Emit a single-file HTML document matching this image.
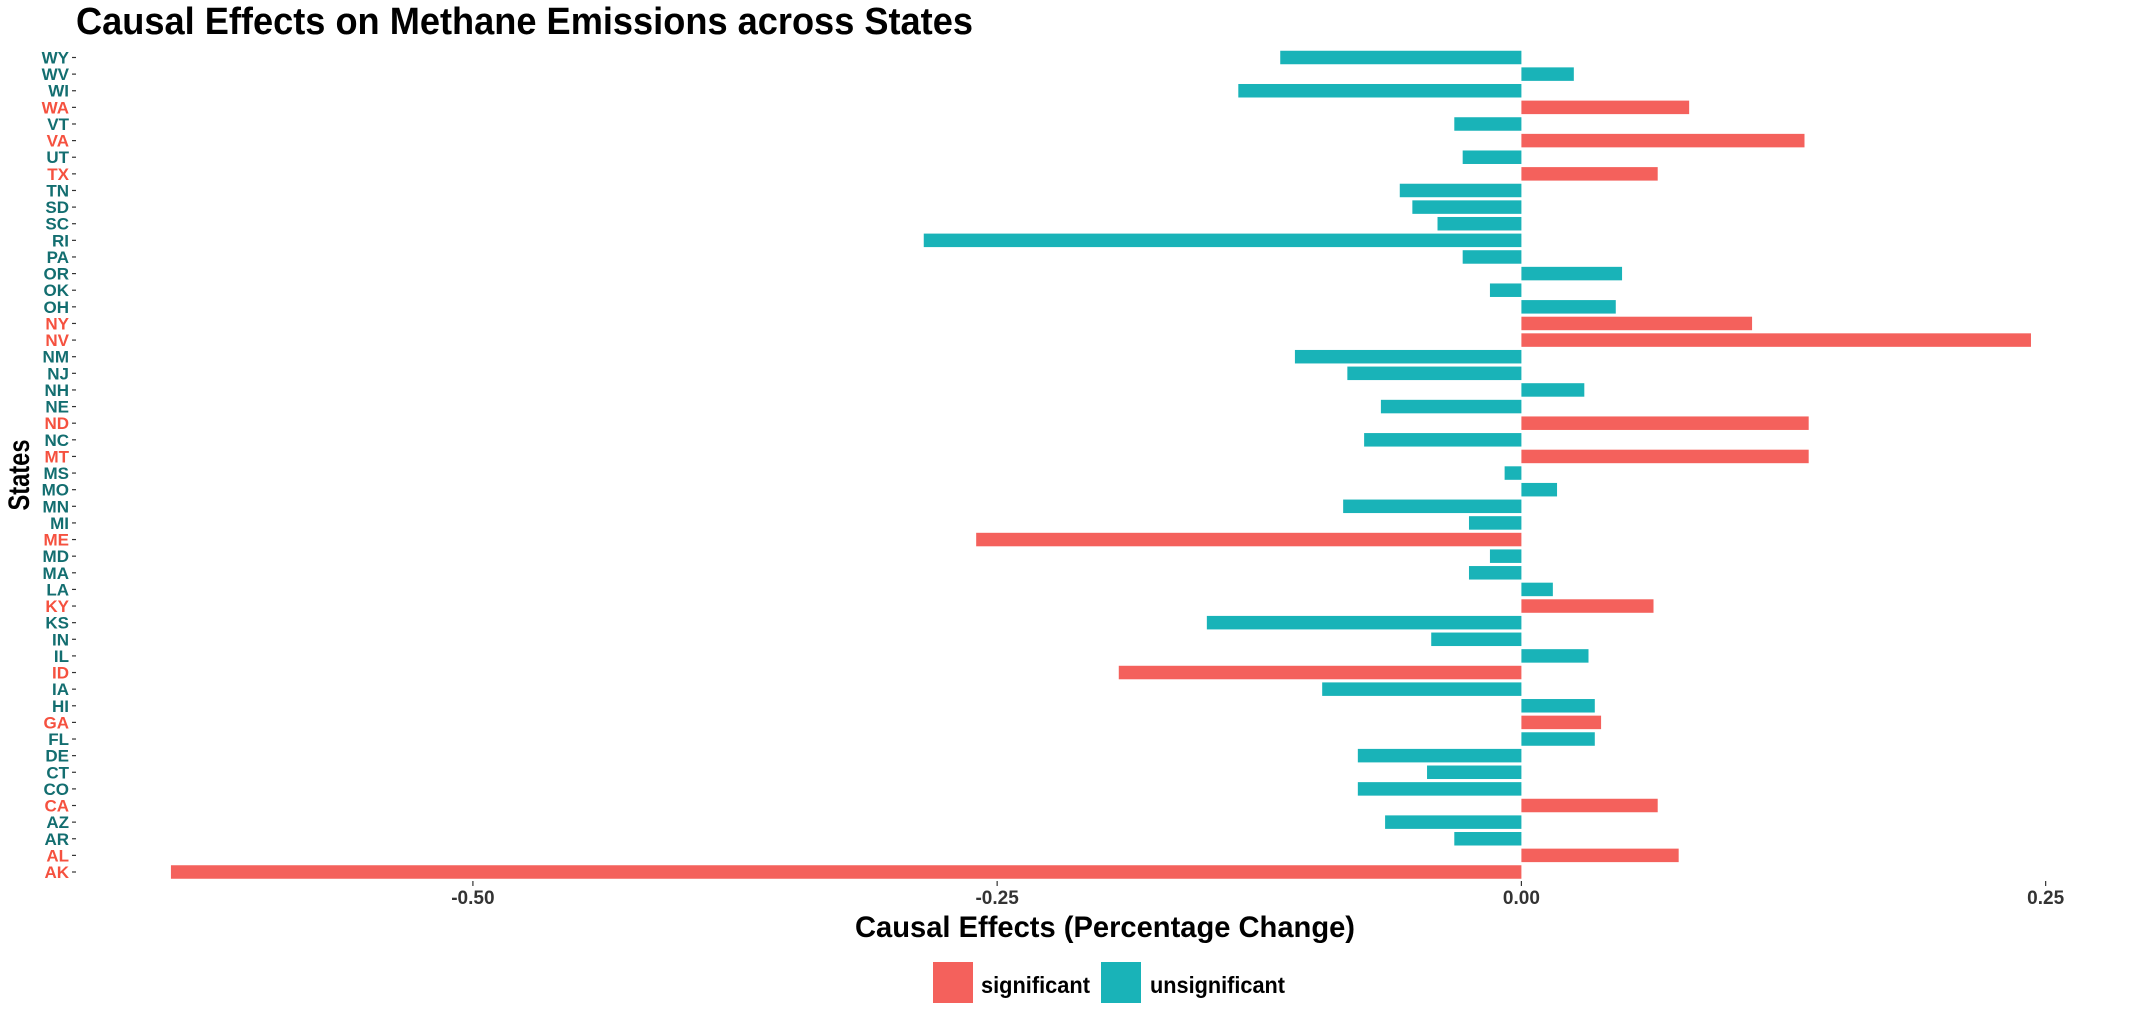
<!DOCTYPE html>
<html><head><meta charset="utf-8"><style>
html,body{margin:0;padding:0;background:#fff;}
svg{display:block;font-family:"Liberation Sans",sans-serif;}
</style></head><body>
<svg id="chart" width="2131" height="1018" viewBox="0 0 2131 1018">
<text x="76" y="34" font-size="38" font-weight="bold" fill="#000" textLength="897" lengthAdjust="spacingAndGlyphs">Causal Effects on Methane Emissions across States</text>
<g id="bars"></g>
<g id="ylabels"></g>
<g id="xaxis"></g>
<text x="1105" y="937" font-size="30" font-weight="bold" text-anchor="middle" textLength="500" lengthAdjust="spacingAndGlyphs">Causal Effects (Percentage Change)</text>
<text transform="translate(29,475) rotate(-90)" font-size="30" font-weight="bold" text-anchor="middle" textLength="71" lengthAdjust="spacingAndGlyphs">States</text>
<g>
<rect x="933" y="962" width="40" height="41" fill="#F4615C"/>
<text x="981" y="993" font-size="23" font-weight="bold" textLength="109" lengthAdjust="spacingAndGlyphs">significant</text>
<rect x="1101" y="962" width="40" height="41" fill="#19B3B8"/>
<text x="1150" y="993" font-size="23" font-weight="bold" textLength="135" lengthAdjust="spacingAndGlyphs">unsignificant</text>
</g>
</svg>
<script>
const states = ["WY","WV","WI","WA","VT","VA","UT","TX","TN","SD","SC","RI","PA","OR","OK","OH","NY","NV","NM","NJ","NH","NE","ND","NC","MT","MS","MO","MN","MI","ME","MD","MA","LA","KY","KS","IN","IL","ID","IA","HI","GA","FL","DE","CT","CO","CA","AZ","AR","AL","AK"];
const effects = [-0.115,0.025,-0.135,0.080,-0.032,0.135,-0.028,0.065,-0.058,-0.052,-0.040,-0.285,-0.028,0.048,-0.015,0.045,0.110,0.243,-0.108,-0.083,0.030,-0.067,0.137,-0.075,0.137,-0.008,0.017,-0.085,-0.025,-0.260,-0.015,-0.025,0.015,0.063,-0.150,-0.043,0.032,-0.192,-0.095,0.035,0.038,0.035,-0.078,-0.045,-0.078,0.065,-0.065,-0.032,0.075,-0.644];
const significant = [0,0,0,1,0,1,0,1,0,0,0,0,0,0,0,0,1,1,0,0,0,0,1,0,1,0,0,0,0,1,0,0,0,1,0,0,0,1,0,0,1,0,0,0,0,1,0,0,1,1];
const xTicks = [-0.5,-0.25,0,0.25];
const xTickLabels = ["-0.50","-0.25","0.00","0.25"];

const NS="http://www.w3.org/2000/svg";
const x0=1521.4, kx=2097;
function xs(v){return x0+v*kx;}
const yTop=57.5, yBot=872, n=states.length;
function ys(i){return yTop+i*(yBot-yTop)/(n-1);}
const bh=13.5;
const bars=document.getElementById('bars'), yl=document.getElementById('ylabels'), xa=document.getElementById('xaxis');
states.forEach((s,i)=>{
  const v=effects[i], y=ys(i);
  const r=document.createElementNS(NS,'rect');
  r.setAttribute('x',Math.min(xs(0),xs(v)));
  r.setAttribute('y',y-bh/2);
  r.setAttribute('width',Math.abs(xs(v)-xs(0)));
  r.setAttribute('height',bh);
  r.setAttribute('fill',significant[i]?'#F4615C':'#19B3B8');
  
  
  bars.appendChild(r);
  const t=document.createElementNS(NS,'text');
  t.setAttribute('x',69);t.setAttribute('y',y+6);
  t.setAttribute('text-anchor','end');t.setAttribute('font-size','17');t.setAttribute('font-weight','bold');
  t.setAttribute('fill',significant[i]?'#F5513F':'#136E70');
  t.textContent=s;
  
  
  yl.appendChild(t);
  const tk=document.createElementNS(NS,'line');
  tk.setAttribute('x1',72);tk.setAttribute('x2',76);tk.setAttribute('y1',y);tk.setAttribute('y2',y);
  tk.setAttribute('stroke','#333');tk.setAttribute('stroke-width','1.2');
  
  
  yl.appendChild(tk);
});
xTicks.forEach((v,i)=>{
  const tk=document.createElementNS(NS,'line');
  tk.setAttribute('x1',xs(v));tk.setAttribute('x2',xs(v));tk.setAttribute('y1',881);tk.setAttribute('y2',886);
  tk.setAttribute('stroke','#333');tk.setAttribute('stroke-width','1.2');
  
  
  xa.appendChild(tk);
  const t=document.createElementNS(NS,'text');
  t.setAttribute('x',xs(v));t.setAttribute('y',904);t.setAttribute('text-anchor','middle');
  t.setAttribute('font-size','19');t.setAttribute('font-weight','bold');t.setAttribute('fill','#333');
  t.textContent=xTickLabels[i];
  
  
  xa.appendChild(t);
});
</script>
</body></html>
